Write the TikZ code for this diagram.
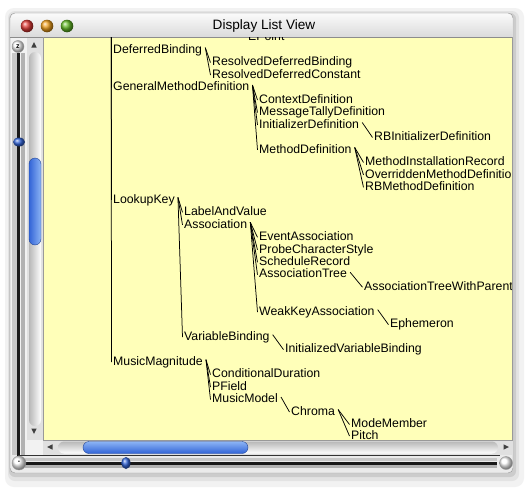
\documentclass[tikz,border=0pt]{standalone}
\usepackage{fontspec}
\setmainfont{Liberation Sans}
\definecolor{paper}{RGB}{255,255,185}
\definecolor{thumbA}{RGB}{140,180,245}
\definecolor{thumbB}{RGB}{50,100,215}
\definecolor{tlred}{RGB}{225,60,55}
\definecolor{tlorange}{RGB}{240,160,30}
\definecolor{tlgreen}{RGB}{100,185,40}
\begin{document}
\begin{tikzpicture}[x=1pt,y=-1pt,
  lbl/.style={inner sep=0pt, anchor=base west, font=\fontsize{12.3}{14}\selectfont, text height=9pt, text depth=2.5pt},
  edge/.style={line width=0.75pt, black},
  knob/.style={ball color=thumbB},
  btn/.style={ball color=white, draw=black!40, line width=0.4pt}]
\useasboundingbox (0,0) rectangle (528,490);
\fill[white] (0,0) rectangle (528,490);
% shadow
\fill[black!5, rounded corners=9] (5,8) rectangle (524,487);
\fill[black!11, rounded corners=7] (8,11) rectangle (519,481);
\fill[black!20, rounded corners=6] (9,13) rectangle (516,477);
% window body
\fill[black!8, draw=black!40, rounded corners=5] (10,13) rectangle (513,473);
% title bar
\shade[top color=black!2, bottom color=black!18, rounded corners=5] (10.5,13.5) rectangle (512.5,44);
\node[font=\fontsize{13.6}{16}\selectfont, inner sep=0pt] (title) at (264,26) {Display List View};
\shade[ball color=tlred] (27,26) circle (6.3);
\shade[ball color=tlorange] (47,26) circle (6.3);
\shade[ball color=tlgreen] (67,26) circle (6.3);
% content area
\fill[paper] (43,37) rectangle (512,440);
\draw[black!45] (10,37) -- (513,37);
\draw[black!40] (43,37) -- (43,440) -- (512,440) -- (512,37);
% left strip
\fill[black!5] (10.5,37.5) rectangle (42.5,455);
\fill[black!22] (12,53) rectangle (16.5,455);
\fill[black!30] (20.5,53) rectangle (25,455);
\draw[line width=3pt, black!90] (18.5,53) -- (18.5,456);
\shade[btn] (18,46.5) circle (6);
\node[font=\bfseries\fontsize{7}{7}\selectfont] (zbtn) at (18,46.5) {z};
\shade[knob] (19,142) ellipse (6 and 4.5);
\fill[black!12] (27,37.5) rectangle (42.5,440);
\shade[left color=black!28, right color=white, rounded corners=6] (29,52) rectangle (41,426);
\fill[black!75] (31.3,47.5) -- (36.7,47.5) -- (34,42) -- cycle;
\fill[black!75] (31.3,428.5) -- (36.7,428.5) -- (34,434) -- cycle;
\shade[left color=thumbB, right color=thumbA, draw=thumbB!70!black, rounded corners=6] (29,158) rectangle (41,245);
% bottom scrollbar
\fill[black!12] (43,440.5) rectangle (512.5,455);
\shade[top color=black!28, bottom color=white, rounded corners=6] (58,441.5) rectangle (498,453.5);
\fill[black!75] (52.5,444.3) -- (52.5,449.7) -- (47,447) -- cycle;
\fill[black!75] (503.5,444.3) -- (503.5,449.7) -- (509,447) -- cycle;
\shade[top color=thumbA, bottom color=thumbB, draw=thumbB!70!black, rounded corners=6] (83,441.5) rectangle (248,453.5);
% bottom zoom slider
\draw[line width=1.4pt, black!80] (18,455.5) -- (500,455.5);
\fill[black!22] (25,458) rectangle (497,461);
\fill[black!30] (25,465) rectangle (497,468);
\draw[line width=3pt, black!90] (25,463) -- (497,463);
\shade[knob] (126,463) ellipse (4.5 and 6);
\shade[btn] (19,463) circle (7);
\node[font=\bfseries\fontsize{7}{7}\selectfont] (mbtn) at (19,462.5) {-};
\shade[btn] (506,463) circle (6.5);
% tree
\begin{scope}
\clip (43.5,37.5) rectangle (511.5,439.6);
\coordinate (root) at (111,-120);
\node[lbl, text height=3pt] (ep)  at (248,40.87)  {EPoint};
\node[lbl] (db)  at (113,53.35)  {DeferredBinding};
\node[lbl] (rdb) at (212,65.83)  {ResolvedDeferredBinding};
\node[lbl] (rdc) at (212,78.31)  {ResolvedDeferredConstant};
\node[lbl] (gmd) at (113,90.79)  {GeneralMethodDefinition};
\node[lbl] (cd)  at (259,103.27) {ContextDefinition};
\node[lbl] (mtd) at (259,115.75) {MessageTallyDefinition};
\node[lbl] (idf) at (259,128.23) {InitializerDefinition};
\node[lbl] (rbi) at (374,140.71) {RBInitializerDefinition};
\node[lbl] (md)  at (259,153.19) {MethodDefinition};
\node[lbl] (mir) at (365,165.67) {MethodInstallationRecord};
\node[lbl] (omd) at (365,178.15) {OverriddenMethodDefinition};
\node[lbl] (rbm) at (365,190.63) {RBMethodDefinition};
\node[lbl] (lk)  at (113,203.11) {LookupKey};
\node[lbl] (lav) at (184,215.59) {LabelAndValue};
\node[lbl] (as)  at (184,228.07) {Association};
\node[lbl] (ea)  at (259,240.55) {EventAssociation};
\node[lbl] (pcs) at (259,253.03) {ProbeCharacterStyle};
\node[lbl] (sr)  at (259,265.51) {ScheduleRecord};
\node[lbl] (atree) at (259,277.99) {AssociationTree};
\node[lbl] (atp) at (364,290.47) {AssociationTreeWithParent};
\node[lbl] (wka) at (259,315.43) {WeakKeyAssociation};
\node[lbl] (eph) at (390,327.91) {Ephemeron};
\node[lbl] (vb)  at (184,340.39) {VariableBinding};
\node[lbl] (ivb) at (285,352.87) {InitializedVariableBinding};
\node[lbl] (mm)  at (113,365.35) {MusicMagnitude};
\node[lbl] (cdu) at (212,377.83) {ConditionalDuration};
\node[lbl] (pf)  at (212,390.31) {PField};
\node[lbl] (mmo) at (212,402.79) {MusicModel};
\node[lbl] (chr) at (291,415.27) {Chroma};
\node[lbl] (mme) at (351,427.75) {ModeMember};
\node[lbl, text depth=0pt] (pit) at (351,439.5) {Pitch};
\foreach \c in {db,gmd,lk,mm}
  \draw[edge] (root) -- ([xshift=-1.5pt]\c.west);
\foreach \p/\c in {db/rdb,db/rdc,gmd/cd,gmd/mtd,gmd/idf,gmd/md,idf/rbi,md/mir,md/omd,md/rbm,
  lk/lav,lk/as,lk/vb,as/ea,as/pcs,as/sr,as/atree,as/wka,atree/atp,wka/eph,vb/ivb,
  mm/cdu,mm/pf,mm/mmo,mmo/chr,chr/mme}
  \draw[edge] ([xshift=3pt,yshift=2.5pt]\p.east) -- ([xshift=-1.5pt]\c.west);
\draw[edge] ([xshift=3pt,yshift=2.5pt]chr.east) -- ([xshift=-1.5pt,yshift=-1pt]pit.west);
\end{scope}
\end{tikzpicture}
\end{document}
